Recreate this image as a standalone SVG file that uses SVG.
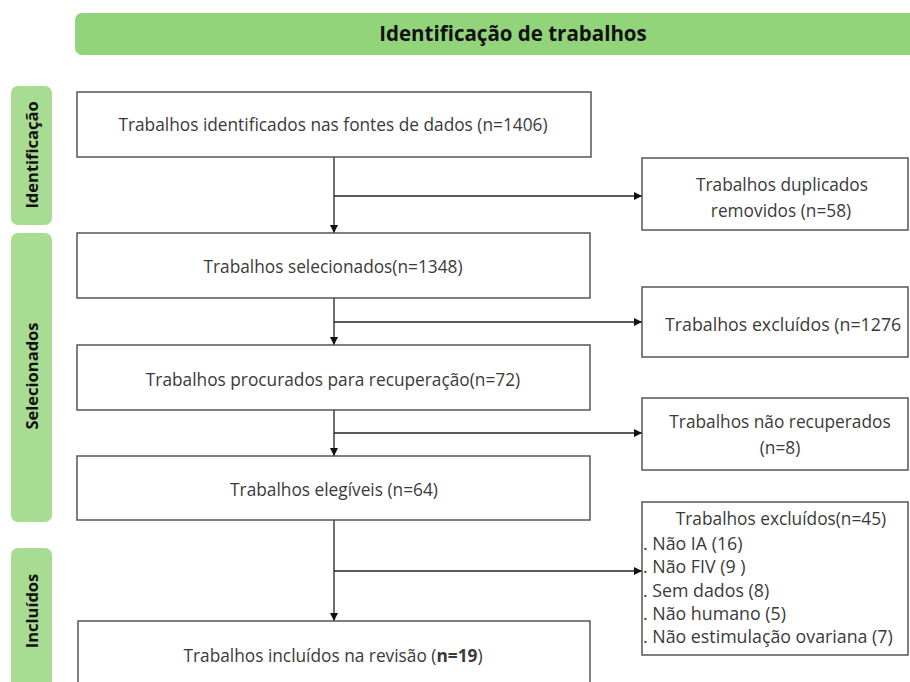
<svg xmlns="http://www.w3.org/2000/svg" width="910" height="682" viewBox="0 0 910 682">
<defs>
<style>
.bg{fill:#ffffff}
.title{fill:#92d47a}
.side{fill:#a9dc93}
.box{fill:#ffffff;stroke:#4a4a4a;stroke-width:1.4}
.t{font-family:"Open Sans","Liberation Sans",sans-serif;font-size:17.3px;fill:#3a3a3a}
.l{font-size:17.8px}
.c{text-anchor:middle}
.h{font-family:"Open Sans","Liberation Sans",sans-serif;font-weight:bold;fill:#111111}
.ln{fill:none;stroke:#222222;stroke-width:1.3}
</style>
<marker id="ah" viewBox="0 0 10 10" refX="10" refY="5" markerWidth="8" markerHeight="8" markerUnits="userSpaceOnUse" orient="auto">
<path d="M0,0 L10,5 L0,10 z" fill="#111111"/>
</marker>
</defs>
<rect class="bg" x="0" y="0" width="910" height="682"/>

<g id="title-bar">
<rect class="title" x="75" y="13" width="850" height="42" rx="7"/>
<text class="h c" x="513" y="41" font-size="20.5">Identificação de trabalhos</text>
</g>

<g id="stage-identificacao">
<rect class="side" x="11" y="86" width="41" height="139" rx="7"/>
<text class="h c" font-size="16.5" transform="translate(38,155) rotate(-90)">Identificação</text>
</g>
<g id="stage-selecionados">
<rect class="side" x="11" y="233" width="41" height="289" rx="7"/>
<text class="h c" font-size="16.5" transform="translate(38,376) rotate(-90)">Selecionados</text>
</g>
<g id="stage-incluidos">
<rect class="side" x="11" y="548" width="41" height="150" rx="7"/>
<text class="h c" font-size="16.5" transform="translate(38,611) rotate(-90)">Incluídos</text>
</g>

<g id="connectors">
<line class="ln" x1="334" y1="157" x2="334" y2="233" marker-end="url(#ah)"/>
<line class="ln" x1="334" y1="196" x2="642" y2="196" marker-end="url(#ah)"/>
<line class="ln" x1="334" y1="298" x2="334" y2="345" marker-end="url(#ah)"/>
<line class="ln" x1="334" y1="322" x2="642" y2="322" marker-end="url(#ah)"/>
<line class="ln" x1="334" y1="410" x2="334" y2="456" marker-end="url(#ah)"/>
<line class="ln" x1="334" y1="433" x2="642" y2="433" marker-end="url(#ah)"/>
<line class="ln" x1="334" y1="520" x2="334" y2="621" marker-end="url(#ah)"/>
<line class="ln" x1="334" y1="571" x2="642" y2="571" marker-end="url(#ah)"/>
</g>

<g id="n-identificados">
<rect class="box" x="77" y="92" width="514" height="65"/>
<text class="t c" x="333" y="131">Trabalhos identificados nas fontes de dados (n=1406)</text>
</g>
<g id="n-selecionados">
<rect class="box" x="77" y="233" width="513" height="65"/>
<text class="t c" x="333" y="273">Trabalhos selecionados(n=1348)</text>
</g>
<g id="n-procurados">
<rect class="box" x="77" y="345" width="513" height="65"/>
<text class="t c" x="333" y="386">Trabalhos procurados para recuperação(n=72)</text>
</g>
<g id="n-elegiveis">
<rect class="box" x="77" y="456" width="513" height="64"/>
<text class="t c" x="334" y="496">Trabalhos elegíveis (n=64)</text>
</g>
<g id="n-incluidos">
<rect class="box" x="78" y="621" width="512" height="80"/>
<text class="t c" x="333" y="662">Trabalhos incluídos na revisão (<tspan font-weight="bold">n=19</tspan>)</text>
</g>

<g id="n-duplicados">
<rect class="box" x="642" y="158" width="266" height="72"/>
<text class="t c" x="782" y="191">Trabalhos duplicados</text>
<text class="t c" x="781" y="217">removidos (n=58)</text>
</g>
<g id="n-excluidos1">
<rect class="box" x="642" y="287" width="266" height="70"/>
<text class="t l" x="665" y="331">Trabalhos excluídos (n=1276</text>
</g>
<g id="n-nao-recuperados">
<rect class="box" x="642" y="398" width="266" height="72"/>
<text class="t c" x="780" y="428">Trabalhos não recuperados</text>
<text class="t c" x="780" y="454">(n=8)</text>
</g>
<g id="n-excluidos2">
<rect class="box" x="642" y="502" width="266" height="153"/>
<text class="t c" x="781" y="525">Trabalhos excluídos(n=45)</text>
<text class="t l" x="643" y="550">. Não IA (16)</text>
<text class="t l" x="643" y="573">. Não FIV (9  )</text>
<text class="t l" x="643" y="597">. Sem dados (8)</text>
<text class="t l" x="643" y="620">. Não  humano (5)</text>
<text class="t l" x="643" y="643">. Não estimulação ovariana (7)</text>
</g>
</svg>
